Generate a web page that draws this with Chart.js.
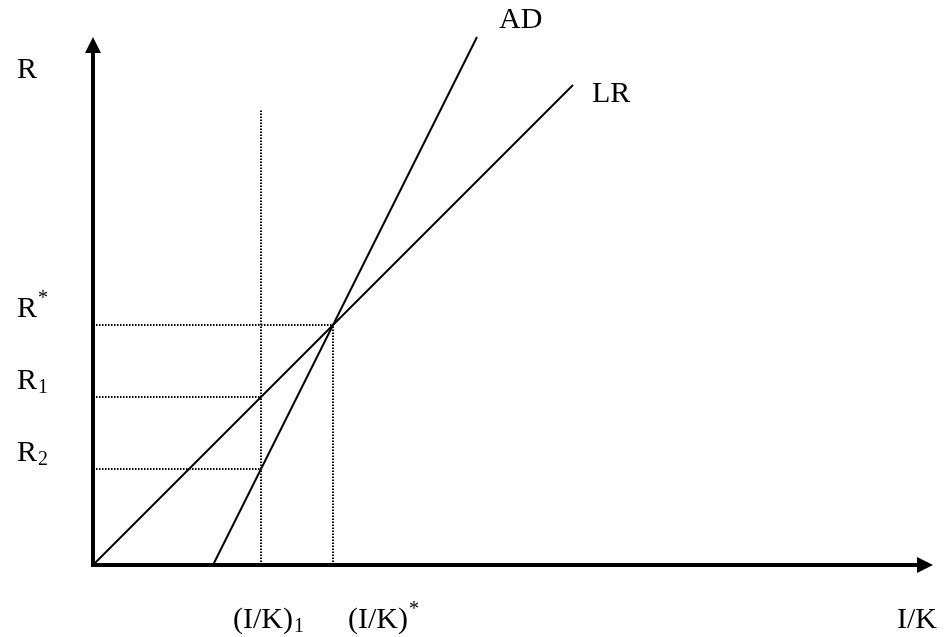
<!DOCTYPE html>
<html>
<head>
<meta charset="utf-8">
<script src="https://cdn.jsdelivr.net/npm/chart.js@4.4.1/dist/chart.umd.min.js"></script>
<style>
  body { margin: 0; background: #fff; }
  #wrap { width: 944px; height: 637px; }
</style>
</head>
<body>
<div id="wrap"><canvas id="chart" width="944" height="637"></canvas></div>
<script>
// axis extents
const xMax = 35;
const yMax = 22;

// curves (I/K, R)
const lrLine = [{ x: 0, y: 0 }, { x: 20, y: 20 }];
const adLine = [{ x: 5, y: 0 }, { x: 16, y: 22 }];

// reference levels
const rValues = [10, 7, 4];
const rScripts = ['*', '1', '2'];
const rScriptKind = ['sup', 'sub', 'sub'];
const rLineEnds = [10, 7, 7];      // horizontal dotted lines run to this I/K

const ikValues = [7, 10];
const ikScripts = ['1', '*'];
const ikScriptKind = ['sub', 'sup'];
const ikLineTops = [19, 10];       // vertical dotted lines run up to this R

function dottedSets() {
    const sets = [];
    rValues.forEach(function (r, i) {
        sets.push({ data: [{ x: 0, y: r }, { x: rLineEnds[i], y: r }] });
    });
    ikValues.forEach(function (v, i) {
        sets.push({ data: [{ x: v, y: 0 }, { x: v, y: ikLineTops[i] }] });
    });
    return sets.map(function (s) {
        return Object.assign(s, {
            borderColor: '#000', borderWidth: 2, borderDash: [1.5, 1.5],
            pointRadius: 0, fill: false, clip: false
        });
    });
}

const FONT = '"Liberation Serif", "Times New Roman", serif';

function drawLabel(ctx, x, y, base, script, kind) {
    ctx.font = '30px ' + FONT;
    ctx.fillText(base, x, y);
    const w = ctx.measureText(base).width;
    ctx.font = '20px ' + FONT;
    ctx.fillText(script, x + w + 1, kind === 'sup' ? y - 13 : y + 4);
}

const axesPlugin = {
    id: 'axesPlugin',
    afterDatasetsDraw: function (chart) {
        const ctx = chart.ctx;
        const xs = chart.scales.x, ys = chart.scales.y;
        const x0 = xs.getPixelForValue(0), y0 = ys.getPixelForValue(0);
        const xEnd = xs.getPixelForValue(xMax), yEnd = ys.getPixelForValue(yMax);
        ctx.save();
        ctx.strokeStyle = '#000';
        ctx.fillStyle = '#000';
        ctx.lineWidth = 4;
        ctx.lineCap = 'square';
        ctx.beginPath();
        ctx.moveTo(x0, y0);
        ctx.lineTo(x0, yEnd + 12);
        ctx.moveTo(x0, y0);
        ctx.lineTo(xEnd - 12, y0);
        ctx.stroke();
        // arrow heads
        ctx.beginPath();
        ctx.moveTo(x0, yEnd);
        ctx.lineTo(x0 - 8, yEnd + 16);
        ctx.lineTo(x0 + 8, yEnd + 16);
        ctx.closePath();
        ctx.fill();
        ctx.beginPath();
        ctx.moveTo(xEnd, y0);
        ctx.lineTo(xEnd - 16, y0 - 8);
        ctx.lineTo(xEnd - 16, y0 + 8);
        ctx.closePath();
        ctx.fill();

        // text
        ctx.textBaseline = 'alphabetic';
        ctx.textAlign = 'left';
        ctx.font = '30px ' + FONT;
        ctx.fillText('R', x0 - 76, yEnd + 41);
        ctx.fillText('I/K', xEnd - 36, y0 + 63);
        ctx.fillText('AD', xs.getPixelForValue(adLine[1].x) + 22, yEnd - 9);
        ctx.fillText('LR', xs.getPixelForValue(lrLine[1].x) + 19, ys.getPixelForValue(lrLine[1].y) + 17);

        rValues.forEach(function (r, i) {
            drawLabel(ctx, x0 - 76, ys.getPixelForValue(r) - 8, 'R', rScripts[i], rScriptKind[i]);
        });
        const ikOffsets = [-28, 15];
        ikValues.forEach(function (v, i) {
            drawLabel(ctx, xs.getPixelForValue(v) + ikOffsets[i], y0 + 63, '(I/K)', ikScripts[i], ikScriptKind[i]);
        });
        ctx.restore();
    }
};

const ctx = document.getElementById('chart').getContext('2d');
new Chart(ctx, {
    type: 'line',
    data: {
        datasets: [
            { label: 'LR', data: lrLine, borderColor: '#000', borderWidth: 2, pointRadius: 0, fill: false, clip: false },
            { label: 'AD', data: adLine, borderColor: '#000', borderWidth: 2, pointRadius: 0, fill: false, clip: false }
        ].concat(dottedSets())
    },
    options: {
        responsive: false,
        animation: false,
        layout: { padding: { left: 93, right: 11, top: 37, bottom: 72 } },
        scales: {
            x: { type: 'linear', min: 0, max: xMax, display: false },
            y: { type: 'linear', min: 0, max: yMax, display: false }
        },
        plugins: {
            legend: { display: false },
            tooltip: { enabled: false }
        }
    },
    plugins: [axesPlugin]
});
</script>
</body>
</html>
